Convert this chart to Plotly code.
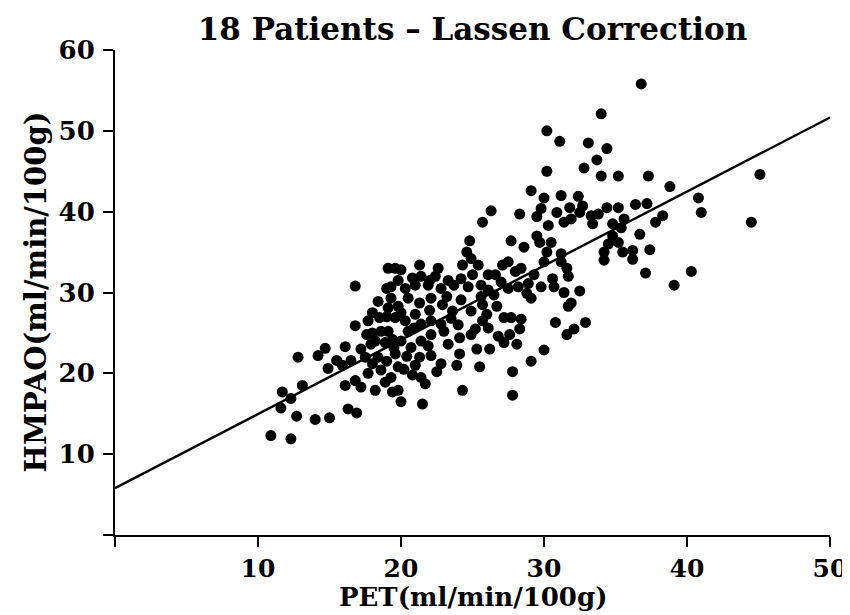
import plotly.graph_objects as go

# PET (ml/min/100g) values of each point
pet = [
    36.8, 34.0, 30.2, 31.1, 33.1, 34.4, 33.7, 32.8, 30.2, 34.0, 35.2, 37.3,
    38.8, 45.1, 40.8, 41.0, 44.5, 35.2, 36.4, 37.2, 38.3, 37.8, 35.6, 35.4, 36.7, 35.2, 35.5, 36.2, 36.2, 37.4, 37.1, 40.3, 39.1,
    29.1, 30.0, 31.2, 32.4, 28.3, 29.5, 29.8, 30.9, 31.8, 32.7, 31.4, 31.9, 32.5, 33.3, 33.4, 33.8, 34.4, 34.8, 34.8, 34.5, 34.2, 34.2,
    27.7, 28.6, 29.5, 29.7, 30.3, 30.5, 30.2, 30.0, 31.2, 31.2, 31.6, 31.7, 30.6, 30.7, 29.8, 29.3, 28.9, 29.1, 28.8, 28.2,
    27.5, 28.4, 28.0, 31.4, 32.5, 31.7, 31.9, 30.8, 32.1, 31.6, 32.9, 30.0, 29.1, 27.8, 27.8, 27.7, 28.4, 28.3, 28.1, 27.6, 27.5,
    24.8, 24.6, 24.9, 25.4, 24.3, 21.3, 22.6, 19.6, 20.0, 19.1, 21.4, 22.4, 23.3, 24.2, 25.0, 26.1, 26.6, 27.1,
    19.3, 20.3, 21.0, 21.9, 22.8, 23.7, 24.7, 25.6, 26.1, 27.0, 19.3, 19.8, 20.5, 21.3, 22.1, 22.9, 23.6, 24.2, 24.9, 25.7, 26.7,
    27.2, 25.7, 26.1, 26.8, 27.2, 26.2, 25.3, 24.9, 24.1, 24.1, 23.3, 22.8, 23.9, 22.1, 21.3, 20.5, 20.0, 20.7, 19.6, 19.1,
    21.4, 22.1, 21.4, 22.1, 22.8, 20.3, 19.6, 19.1, 19.8, 19.3, 21.4, 21.7, 19.8, 20.0, 21.5, 24.3, 25.5,
    25.7, 26.3,
    16.8, 19.0, 18.4, 17.7, 16.8, 17.6, 18.5, 18.6, 17.9, 18.9, 18.4, 17.5, 16.5, 15.9, 15.5, 16.1, 14.9, 14.2, 14.7, 12.8,
    16.1, 16.8, 17.2, 18.2, 18.9, 19.4, 18.6, 17.7, 13.1, 11.7, 12.3, 11.6, 12.7, 14.0, 15.0, 16.3, 16.9,
    10.9, 12.3,
    # points hidden in the dense core
    18.0, 19.0, 20.0, 21.0, 22.0, 18.0, 19.4, 20.9, 17.2, 18.2, 19.5, 20.4, 21.9, 18.0, 19.0,
    20.2, 21.0, 22.5, 20.8, 23.0, 23.5, 23.2, 20.8, 19.8, 22.0, 25.6, 26.5, 24.0, 25.2, 26.0,
]

# HMPAO (ml/min/100g) values of each point
hmpao = [
    55.8, 52.1, 50.0, 48.7, 48.5, 47.8, 46.4, 45.4, 45.0, 44.4, 44.4, 44.4,
    43.1, 44.6, 41.7, 39.9, 38.7, 40.5, 40.9, 41.0, 39.5, 38.7, 39.1, 38.0, 37.2, 36.2, 35.0, 35.2, 34.1, 35.3, 32.4, 32.6, 30.9,
    42.6, 41.7, 42.0, 41.9, 39.7, 39.4, 40.4, 39.9, 40.5, 40.7, 38.7, 39.1, 39.9, 39.5, 38.5, 39.7, 40.5, 38.5, 37.0, 36.0, 35.0, 34.0,
    36.4, 35.6, 37.0, 36.2, 38.3, 36.2, 35.0, 33.8, 34.8, 33.8, 33.0, 32.0, 31.7, 30.7, 30.7, 32.2, 31.1, 29.3, 29.9, 30.7,
    33.8, 33.0, 32.6, 30.0, 30.2, 28.3, 28.7, 26.3, 25.5, 24.8, 26.3, 22.9, 21.5, 20.2, 17.3, 26.9, 26.7, 25.5, 23.6, 24.8, 30.5,
    36.4, 35.0, 34.2, 33.4, 33.4, 33.4, 33.0, 33.0, 32.8, 33.0, 32.0, 32.0, 31.5, 31.7, 32.2, 32.2, 32.2, 33.4,
    30.7, 30.5, 30.9, 30.9, 30.5, 30.9, 30.7, 30.9, 30.3, 31.3, 29.3, 28.3, 29.3, 28.7, 29.3, 28.5, 27.7, 29.1, 27.7, 28.5, 28.3,
    26.9, 26.5, 25.6, 24.6, 23.8, 23.0, 23.0, 24.8, 24.4, 22.4, 23.6, 21.2, 21.0, 22.2, 22.0, 25.2, 24.0, 23.2, 22.4, 25.2,
    24.0, 24.8, 26.1, 26.5, 26.1, 26.5, 26.9, 28.1, 20.8, 19.5, 19.5, 18.7, 17.9, 16.5, 16.2, 17.9, 20.8,
    38.7, 40.1,
    30.8, 30.5, 28.9, 26.5, 25.9, 24.8, 26.9, 25.2, 23.6, 23.8, 22.0, 22.0, 21.6, 21.0, 21.6, 23.3, 20.6, 22.2, 23.1, 22.0,
    18.5, 19.1, 18.3, 17.9, 18.9, 17.7, 20.4, 20.0, 18.5, 17.7, 16.9, 15.7, 14.7, 14.3, 14.5, 15.6, 15.1,
    12.3, 11.9,
    # points hidden in the dense core
    27.5, 27.0, 27.5, 27.3, 27.8, 25.0, 24.2, 25.6, 23.0, 24.0, 23.2, 22.1, 23.4, 21.2, 21.5,
    20.5, 21.0, 20.2, 19.8, 25.2, 26.8, 29.5, 31.8, 31.5, 31.5, 29.5, 29.7, 26.0, 25.5, 27.3,
]

# regression line: HMPAO = intercept + slope * PET, drawn from PET 0 to 50
line_pet = [0, 50]
intercept = 5.8
slope = 0.917
line_hmpao = [intercept + slope * p for p in line_pet]

x_ticks = [0, 10, 20, 30, 40, 50]
x_ticktext = ["", "10", "20", "30", "40", "50"]
y_ticks = [0, 10, 20, 30, 40, 50, 60]
y_ticktext = ["", "10", "20", "30", "40", "50", "60"]

title_text = "18 Patients \u2013 Lassen Correction"
x_title = "PET(ml/min/100g)"
y_title = "HMPAO(ml/min/100g)"

FONT = "DejaVu Serif"

TOP, BOTTOM, LEFT, RIGHT = 42, 88, 107, 28
plot_h = 615 - TOP - BOTTOM
plot_w = 850 - LEFT - RIGHT

fig = go.Figure()
fig.add_trace(go.Scatter(
    x=line_pet, y=line_hmpao, mode="lines",
    line=dict(color="black", width=2.4), hoverinfo="skip", showlegend=False,
))
fig.add_trace(go.Scatter(
    x=pet, y=hmpao, mode="markers",
    marker=dict(color="black", size=11, line=dict(width=0)), showlegend=False,
))

fig.update_layout(
    width=850, height=615,
    margin=dict(l=LEFT, r=RIGHT, t=TOP, b=BOTTOM),
    paper_bgcolor="white", plot_bgcolor="white",
    font=dict(family=FONT, color="black", size=26, weight="bold"),
    title=dict(text=title_text, xref="paper", x=0.5, xanchor="center",
               yref="container", y=1 - 21 / 615, yanchor="middle",
               font=dict(family=FONT, size=31, weight="bold", color="black")),
    annotations=[
        dict(text=x_title, xref="paper", yref="paper", x=0.5, y=-(589 - (615 - BOTTOM)) / plot_h,
             xanchor="center", yanchor="middle", showarrow=False, borderpad=0,
             font=dict(family=FONT, size=26, weight="bold", color="black")),
        dict(text=y_title, xref="paper", yref="paper", x=-(LEFT - 27) / plot_w, y=0.5,
             xanchor="center", yanchor="middle", showarrow=False, textangle=-90,
             font=dict(family=FONT, size=29, weight="bold", color="black")),
    ],
)
fig.update_xaxes(
    range=[0, 50], tickvals=x_ticks, ticktext=x_ticktext,
    showgrid=False, zeroline=False, showline=True, linecolor="black", linewidth=2,
    ticks="outside", ticklen=10, tickwidth=2, tickcolor="black",
    tickfont=dict(family=FONT, size=25, weight="bold"),
)
fig.update_yaxes(
    range=[0, 60], tickvals=y_ticks, ticktext=y_ticktext,
    showgrid=False, zeroline=False, showline=True, linecolor="black", linewidth=2,
    ticks="outside", ticklen=10, tickwidth=2, tickcolor="black",
    ticklabelstandoff=3,
    tickfont=dict(family=FONT, size=26, weight="bold"),
)

fig.write_html("out.html")
